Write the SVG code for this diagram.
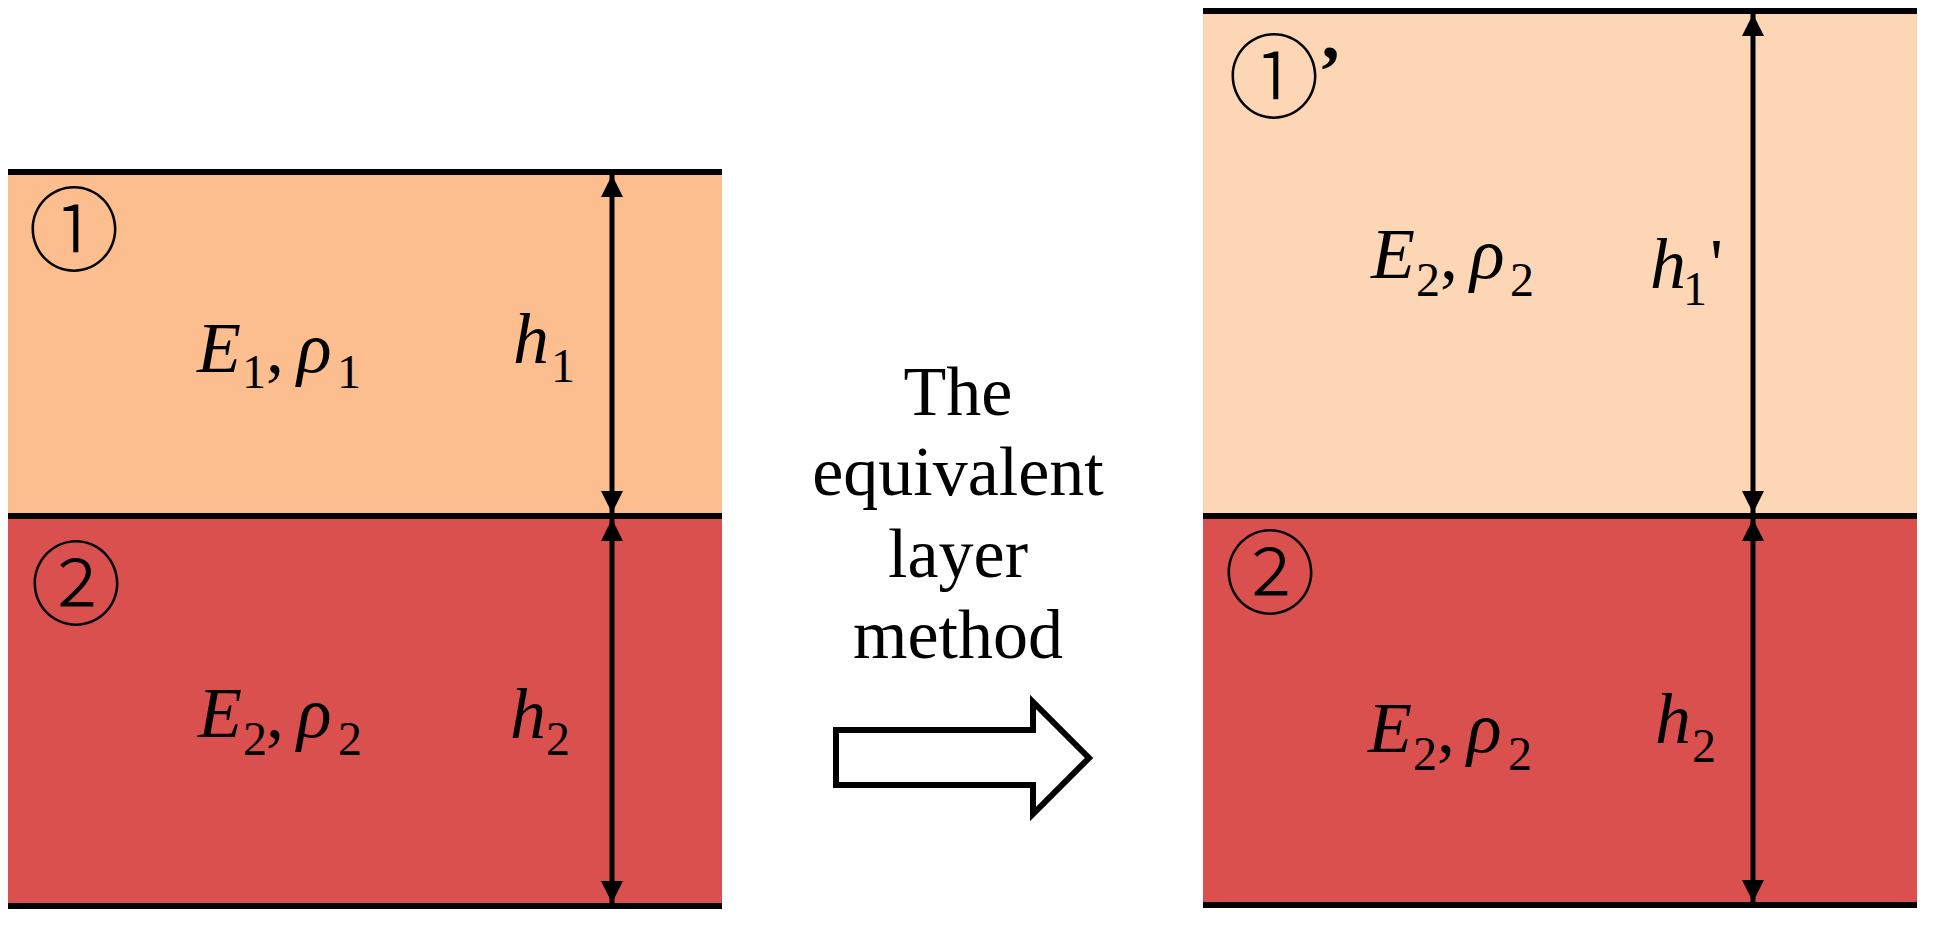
<svg xmlns="http://www.w3.org/2000/svg" width="1933" height="925" viewBox="0 0 1933 925">
<style>
.bg{fill:#ffffff}
.l1{fill:#FDBE8F}
.l2{fill:#D9504F}
.l1e{fill:#FDD6B6}
.bound{stroke:#000;stroke-width:6;fill:none}
.dim{stroke:#000;stroke-width:5;fill:none}
.m{font-family:"Liberation Serif","Times New Roman",serif;font-size:72px;fill:#000}
.i{font-style:italic}
.sub{font-size:48px;font-style:normal}
.num{font-family:"Noto Sans CJK SC","Noto Sans CJK JP",sans-serif;font-size:92px;font-weight:300;fill:#000}
.cap{font-family:"Liberation Serif","Times New Roman",serif;font-size:70px;fill:#000;text-anchor:middle}
</style>
<defs>
<marker id="ah" markerUnits="userSpaceOnUse" viewBox="0 0 22 22" refX="22" refY="11" markerWidth="22" markerHeight="22" orient="auto-start-reverse">
<path d="M0,0 L22,11 L0,22 Z" fill="#000"/>
</marker>
</defs>
<rect class="bg" x="0" y="0" width="1933" height="925"/>

<g id="left-layer1">
<rect class="l1" x="8" y="172" width="714" height="344"/>
<text class="num" x="28" y="264">①</text>
<text class="m"><tspan class="i" x="197" y="372">E</tspan><tspan class="sub" x="242" y="388">1</tspan><tspan x="266" y="372">,</tspan><tspan class="i" x="297" y="372">ρ</tspan><tspan class="sub" x="337" y="388">1</tspan></text>
<text class="m"><tspan class="i" x="513" y="363">h</tspan><tspan class="sub" x="551" y="382">1</tspan></text>
</g>

<g id="left-layer2">
<rect class="l2" x="8" y="516" width="714" height="390"/>
<text class="num" x="30" y="618">②</text>
<text class="m"><tspan class="i" x="198" y="737">E</tspan><tspan class="sub" x="243" y="755">2</tspan><tspan x="266" y="737">,</tspan><tspan class="i" x="297" y="737">ρ</tspan><tspan class="sub" x="338" y="755">2</tspan></text>
<text class="m"><tspan class="i" x="510" y="738">h</tspan><tspan class="sub" x="546" y="755">2</tspan></text>
</g>

<g id="method">
<text class="cap"><tspan x="958" y="415">The</tspan><tspan x="958" y="495">equivalent</tspan><tspan x="958" y="577">layer</tspan><tspan x="958" y="658">method</tspan></text>
<path d="M836,730 L1033,730 L1033,702 L1089,758 L1033,814 L1033,785 L836,785 Z" fill="#fff" stroke="#000" stroke-width="6" stroke-linejoin="miter"/>
</g>

<g id="right-layer1">
<rect class="l1e" x="1203" y="11" width="714" height="505"/>
<text class="num" x="1228" y="111">①</text>
<text class="m" x="1318" y="95" font-weight="bold">’</text>
<text class="m"><tspan class="i" x="1371" y="278">E</tspan><tspan class="sub" x="1416" y="296">2</tspan><tspan x="1440" y="278">,</tspan><tspan class="i" x="1470" y="278">ρ</tspan><tspan class="sub" x="1510" y="296">2</tspan></text>
<text class="m"><tspan class="i" x="1650" y="288">h</tspan><tspan class="sub" x="1683" y="305">1</tspan><tspan x="1710" y="288">'</tspan></text>
</g>

<g id="right-layer2">
<rect class="l2" x="1203" y="516" width="714" height="389"/>
<text class="num" x="1224" y="607">②</text>
<text class="m"><tspan class="i" x="1368" y="752">E</tspan><tspan class="sub" x="1413" y="770">2</tspan><tspan x="1437" y="752">,</tspan><tspan class="i" x="1467" y="752">ρ</tspan><tspan class="sub" x="1508" y="770">2</tspan></text>
<text class="m"><tspan class="i" x="1655" y="743">h</tspan><tspan class="sub" x="1692" y="762">2</tspan></text>
</g>

<g id="connectors">
<line class="bound" x1="8" y1="172" x2="722" y2="172"/>
<line class="bound" x1="8" y1="516" x2="722" y2="516"/>
<line class="bound" x1="8" y1="906" x2="722" y2="906"/>
<line class="bound" x1="1203" y1="11" x2="1917" y2="11"/>
<line class="bound" x1="1203" y1="516" x2="1917" y2="516"/>
<line class="bound" x1="1203" y1="905" x2="1917" y2="905"/>
<line class="dim" x1="612" y1="175" x2="612" y2="513" marker-start="url(#ah)" marker-end="url(#ah)"/>
<line class="dim" x1="612" y1="519" x2="612" y2="903" marker-start="url(#ah)" marker-end="url(#ah)"/>
<line class="dim" x1="1753" y1="14" x2="1753" y2="513" marker-start="url(#ah)" marker-end="url(#ah)"/>
<line class="dim" x1="1753" y1="519" x2="1753" y2="902" marker-start="url(#ah)" marker-end="url(#ah)"/>
</g>
</svg>
